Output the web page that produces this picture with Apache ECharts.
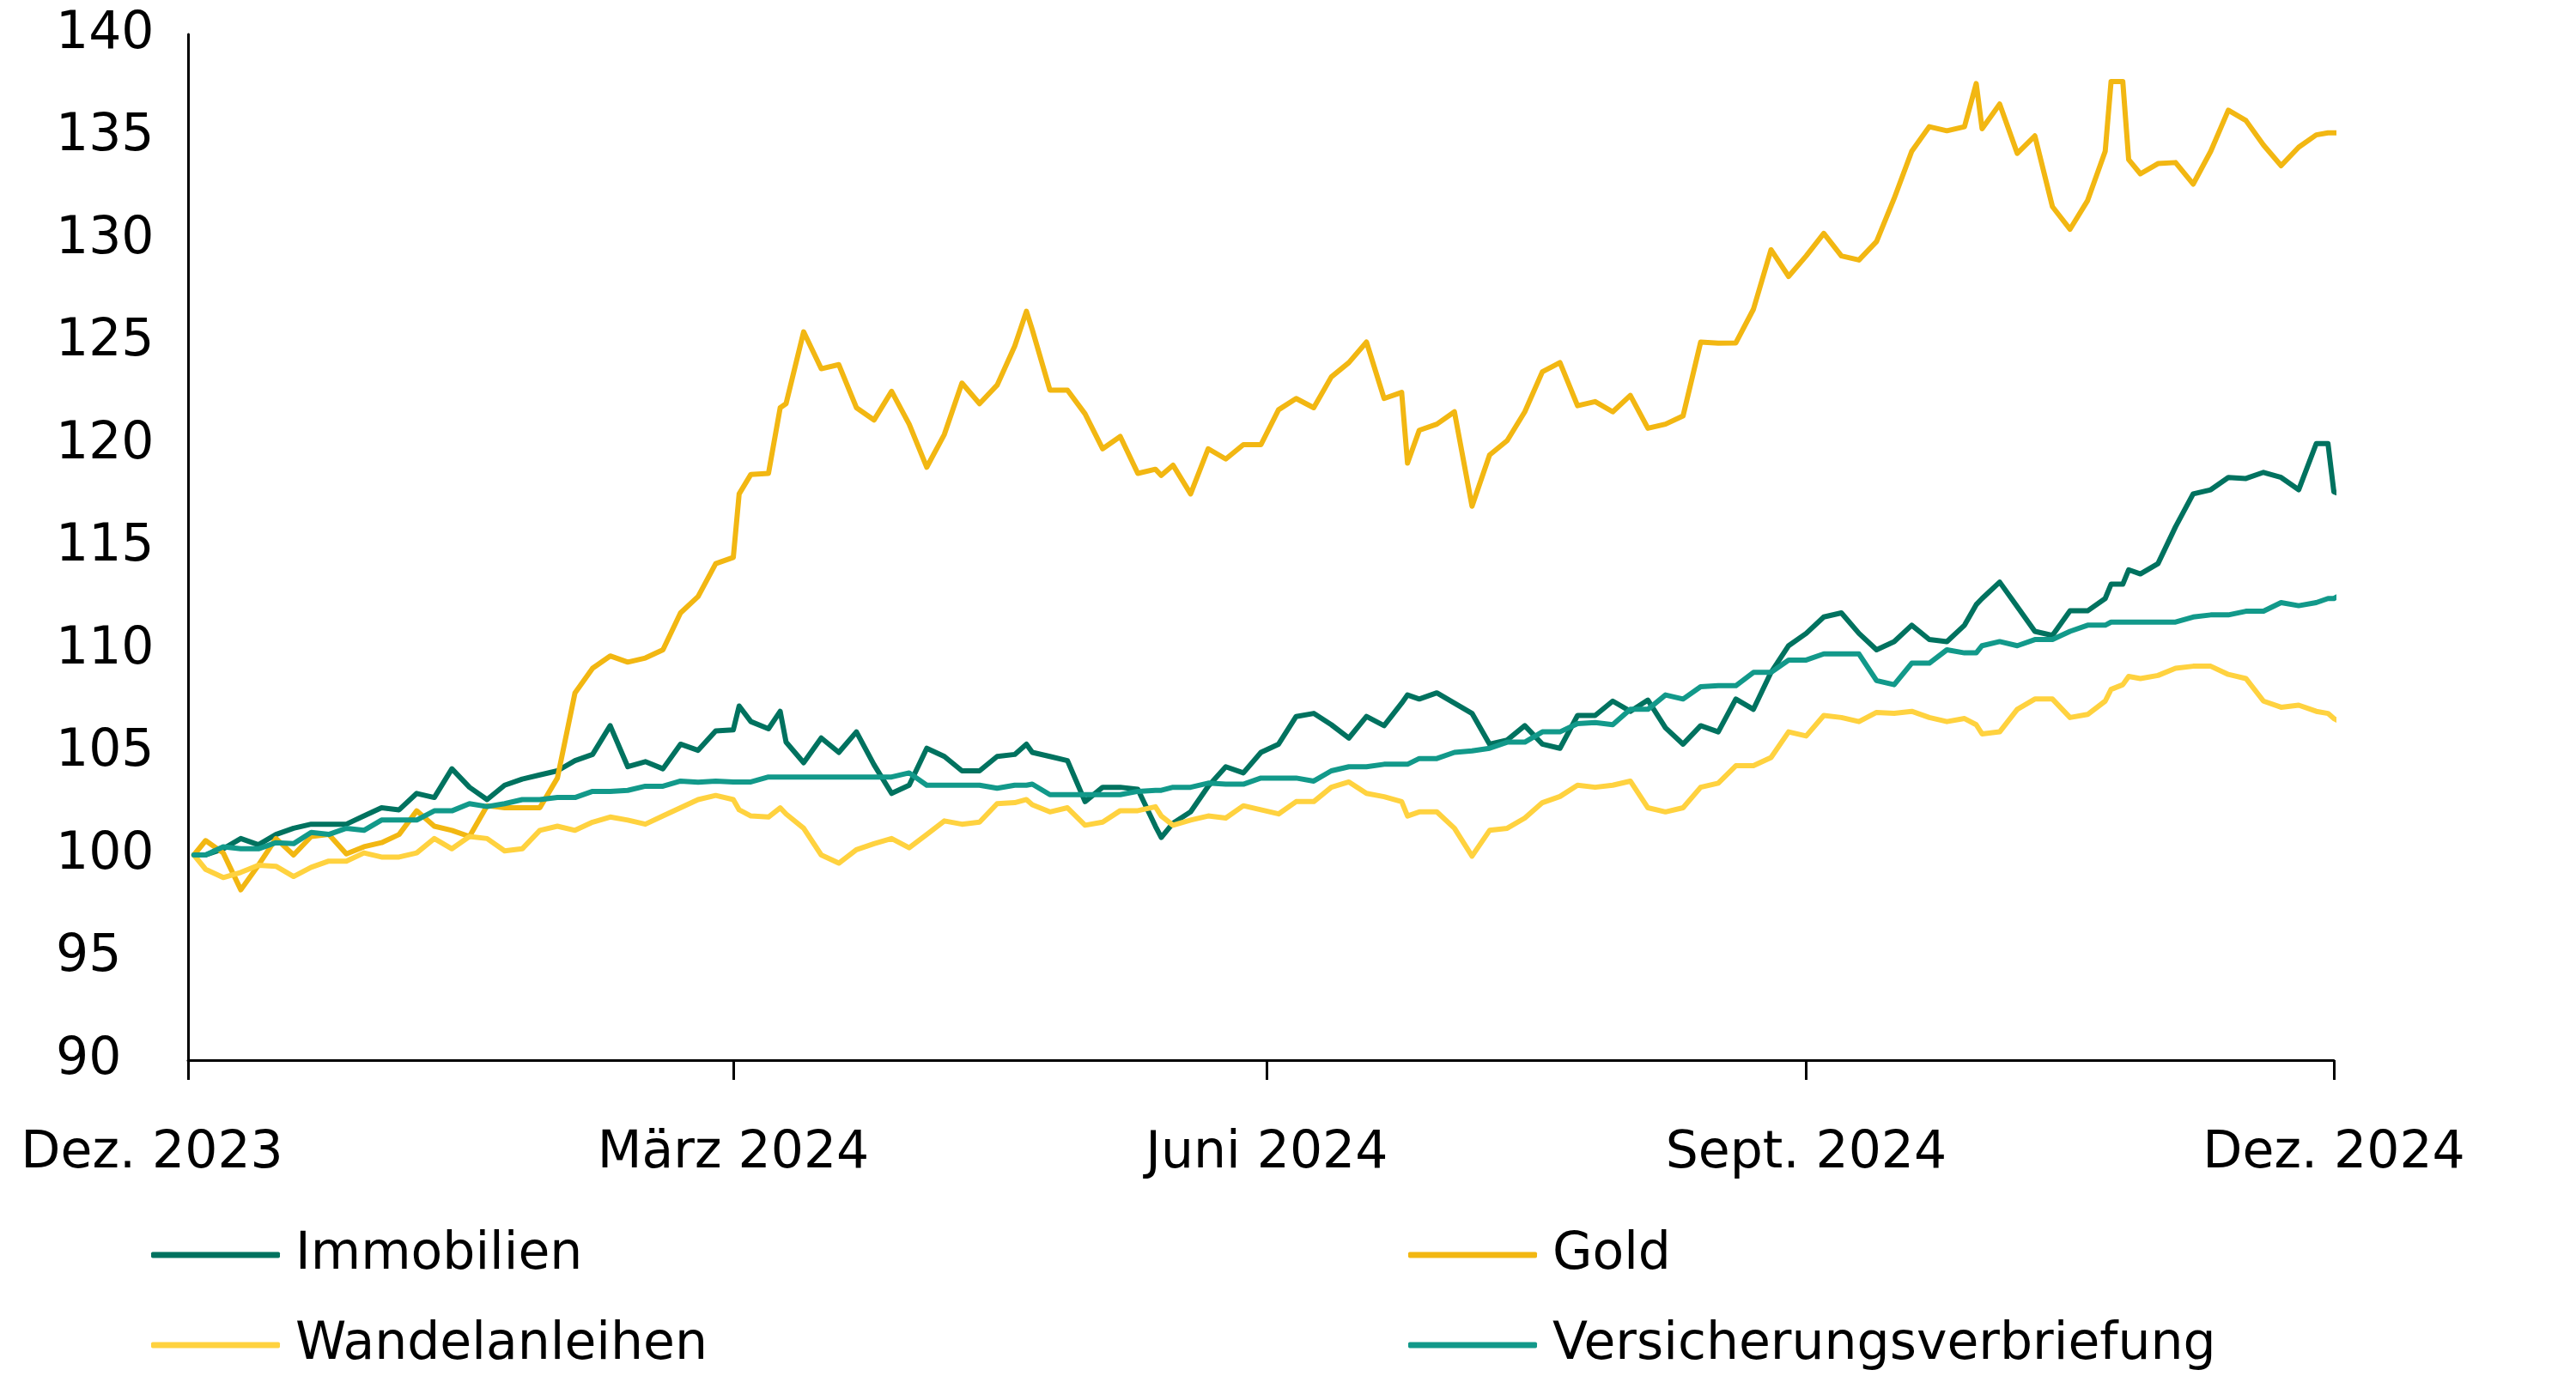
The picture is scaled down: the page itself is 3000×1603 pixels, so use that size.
<!DOCTYPE html>
<html>
<head>
<meta charset="utf-8">
<script src="https://cdn.jsdelivr.net/npm/echarts@6/dist/echarts.min.js"></script>
<style>
html,body{margin:0;padding:0;background:#fff;}
#chart{width:3000px;height:1603px;}
</style>
</head>
<body>
<div id="chart"></div>
<script>
// ---- data ----
const dates = [
'2023-12-02','2023-12-04','2023-12-07','2023-12-10','2023-12-13','2023-12-16','2023-12-19','2023-12-22','2023-12-25','2023-12-28','2023-12-31',
'2024-01-03','2024-01-06','2024-01-09','2024-01-12','2024-01-15','2024-01-18','2024-01-21','2024-01-24','2024-01-27','2024-01-30',
'2024-02-02','2024-02-05','2024-02-08','2024-02-11','2024-02-14','2024-02-17','2024-02-20','2024-02-23','2024-02-26','2024-02-29',
'2024-03-03','2024-03-04','2024-03-06','2024-03-09','2024-03-11','2024-03-12','2024-03-15','2024-03-18','2024-03-21','2024-03-24','2024-03-27','2024-03-30',
'2024-04-02','2024-04-05','2024-04-08','2024-04-11','2024-04-14','2024-04-17','2024-04-20','2024-04-22','2024-04-23','2024-04-26','2024-04-29',
'2024-05-02','2024-05-05','2024-05-08','2024-05-11','2024-05-14','2024-05-15','2024-05-17','2024-05-20','2024-05-23','2024-05-26','2024-05-29',
'2024-06-01','2024-06-04','2024-06-07','2024-06-10','2024-06-13','2024-06-16','2024-06-19','2024-06-22','2024-06-25','2024-06-26','2024-06-28',
'2024-07-01','2024-07-04','2024-07-07','2024-07-10','2024-07-13','2024-07-16','2024-07-19','2024-07-22','2024-07-25','2024-07-28','2024-07-31',
'2024-08-03','2024-08-06','2024-08-09','2024-08-12','2024-08-15','2024-08-18','2024-08-21','2024-08-24','2024-08-27','2024-08-30',
'2024-09-02','2024-09-05','2024-09-08','2024-09-11','2024-09-14','2024-09-17','2024-09-20','2024-09-23','2024-09-26','2024-09-29',
'2024-10-01','2024-10-02','2024-10-05','2024-10-08','2024-10-11','2024-10-14','2024-10-17','2024-10-20','2024-10-23','2024-10-24','2024-10-26','2024-10-27','2024-10-29',
'2024-11-01','2024-11-04','2024-11-07','2024-11-10','2024-11-13','2024-11-16','2024-11-19','2024-11-22','2024-11-25','2024-11-28',
'2024-11-30','2024-12-01','2024-12-02'
];

const immobilien = [
100,100,100.3,100.8,100.5,101.0,101.3,101.5,101.5,101.5,101.9,
102.3,102.2,103.0,102.8,104.2,103.3,102.7,103.4,103.7,103.9,
104.1,104.6,104.9,106.3,104.3,104.55,104.2,105.4,105.1,106.05,
106.1,107.26,106.5,106.15,107.0,105.5,104.5,105.7,105.0,106.0,104.4,103.0,
103.4,105.2,104.8,104.1,104.1,104.8,104.9,105.4,105.0,104.8,104.6,
102.6,103.3,103.3,103.2,101.4,100.85,101.55,102.1,103.35,104.3,104.0,
105.0,105.4,106.75,106.9,106.35,105.7,106.75,106.3,107.4,107.8,107.6,
107.9,107.4,106.9,105.4,105.6,106.3,105.4,105.2,106.8,106.8,107.5,
107.0,107.55,106.2,105.4,106.3,106.0,107.6,107.1,108.9,110.2,
110.8,111.6,111.8,110.8,110.0,110.4,111.2,110.5,110.4,111.2,
112.2,112.5,113.3,112.1,110.9,110.7,111.9,111.9,112.5,113.2,113.2,113.9,113.7,
114.2,116.0,117.6,117.8,118.4,118.35,118.65,118.4,117.8,120.05,
120.05,117.7,117.6
];

const gold = [
100,100.7,100.1,98.3,99.5,100.8,100.0,100.9,101.0,100.05,100.4,
100.6,101.0,102.15,101.4,101.2,100.9,102.4,102.3,102.3,102.3,
103.75,107.9,109.1,109.7,109.4,109.6,110.0,111.8,112.6,114.2,
114.5,117.6,118.55,118.6,121.8,122.0,125.5,123.7,123.9,121.8,121.2,122.6,
121.0,118.9,120.5,123.0,122.0,122.9,124.8,126.5,125.6,122.66,122.66,
121.5,119.8,120.4,118.6,118.8,118.5,119.0,117.6,119.8,119.3,120.0,
120.0,121.7,122.25,121.8,123.3,124.0,125.0,122.25,122.55,119.1,120.7,
121.0,121.6,117.0,119.5,120.2,121.6,123.55,124.0,121.9,122.1,121.6,
122.4,120.8,121.0,121.4,125.0,124.95,124.96,126.6,129.5,128.2,
129.2,130.3,129.2,129.0,129.9,132.0,134.3,135.5,135.3,135.5,
137.6,135.4,136.6,134.2,135.05,131.6,130.5,131.9,134.3,137.7,137.7,133.9,133.2,
133.7,133.75,132.7,134.3,136.3,135.8,134.6,133.6,134.5,135.1,
135.2,135.2,135.2
];

const wandelanleihen = [
100,99.3,98.9,99.15,99.5,99.45,98.95,99.4,99.7,99.7,100.1,
99.9,99.9,100.1,100.8,100.3,100.9,100.8,100.2,100.3,101.2,
101.4,101.2,101.6,101.85,101.7,101.5,101.9,102.3,102.7,102.9,
102.7,102.2,101.9,101.85,102.3,102.0,101.3,100.0,99.6,100.26,100.55,100.8,
100.35,101.0,101.66,101.5,101.6,102.5,102.55,102.7,102.45,102.1,102.3,
101.45,101.6,102.16,102.16,102.35,101.9,101.45,101.7,101.9,101.8,102.4,
102.2,102.0,102.6,102.6,103.3,103.56,103.0,102.84,102.6,101.9,102.1,
102.1,101.3,99.94,101.2,101.3,101.8,102.55,102.85,103.4,103.3,103.4,
103.6,102.3,102.1,102.3,103.3,103.5,104.35,104.35,104.75,106.0,
105.8,106.8,106.7,106.5,106.95,106.9,107.0,106.7,106.5,106.65,
106.35,105.9,106.0,107.1,107.6,107.6,106.7,106.85,107.5,108.07,108.3,108.7,108.6,
108.75,109.1,109.2,109.2,108.8,108.6,107.5,107.2,107.3,107.0,
106.9,106.65,106.5
];

const versicherung = [
100,100,100.4,100.3,100.3,100.6,100.55,101.1,101.0,101.3,101.2,
101.7,101.7,101.7,102.15,102.15,102.5,102.36,102.5,102.7,102.7,
102.8,102.8,103.1,103.1,103.15,103.35,103.35,103.6,103.55,103.6,
103.56,103.56,103.56,103.8,103.8,103.8,103.8,103.8,103.8,103.8,103.8,103.8,
104.0,103.4,103.4,103.4,103.4,103.25,103.4,103.4,103.45,102.94,102.94,
102.94,102.94,102.94,103.1,103.15,103.15,103.3,103.3,103.5,103.45,103.45,
103.75,103.75,103.75,103.6,104.1,104.3,104.3,104.42,104.42,104.42,104.7,
104.7,105.0,105.07,105.2,105.5,105.5,106.0,106.0,106.4,106.45,106.35,
107.1,107.1,107.8,107.6,108.2,108.25,108.25,108.9,108.9,109.5,
109.5,109.8,109.8,109.8,108.5,108.3,109.35,109.35,110.0,109.85,
109.85,110.2,110.4,110.2,110.5,110.5,110.9,111.2,111.2,111.35,111.35,111.35,111.35,
111.35,111.35,111.6,111.7,111.7,111.88,111.88,112.3,112.15,112.3,
112.5,112.5,112.65
];

const seriesNames = ['Immobilien', 'Gold', 'Wandelanleihen', 'Versicherungsverbriefung'];
const seriesColors = ['#00725F', '#F2B712', '#FFD23F', '#12998A'];
const tickDates = ['2023-12-01', '2024-03-03', '2024-06-02', '2024-09-02', '2024-12-01'];
const tickLabels = ['Dez. 2023', 'März 2024', 'Juni 2024', 'Sept. 2024', 'Dez. 2024'];
const axisStart = '2023-12-01';
const axisEnd = '2024-12-01';

// ---- build ----
const ts = s => new Date(s + 'T00:00:00Z').getTime();
const tickTs = tickDates.map(ts);
const allValues = [immobilien, gold, wandelanleihen, versicherung];

const FONT = "'DejaVu Sans', 'Open Sans', sans-serif";

const chart = echarts.init(document.getElementById('chart'), null, {renderer: 'canvas'});

const series = seriesNames.map((name, i) => ({
  name: name,
  type: 'line',
  data: dates.map((d, k) => [ts(d), allValues[i][k]]),
  symbol: 'none',
  showSymbol: false,
  clip: false,
  color: seriesColors[i],
  itemStyle: {color: seriesColors[i]},
  lineStyle: {color: seriesColors[i], width: 6, cap: 'round', join: 'round'},
  emphasis: {disabled: true},
  animation: false
}));

const legendBase = {
  orient: 'vertical',
  top: 1432,
  padding: 0,
  itemWidth: 150,
  itemHeight: 7,
  itemGap: 45,
  icon: 'roundRect',
  selectedMode: false,
  textStyle: {fontFamily: FONT, fontSize: 60, lineHeight: 60, color: '#000', padding: [0, 0, 0, 13]}
};

const labelText = {fontSize: 60, fontFamily: FONT, color: '#000'};

chart.setOption({
  backgroundColor: '#fff',
  animation: false,
  textStyle: {fontFamily: FONT},
  grid: {left: 219, right: 282, top: 40, bottom: 368, containLabel: false},
  xAxis: {
    type: 'value',
    min: ts(axisStart),
    max: ts(axisEnd),
    axisLine: {show: true, lineStyle: {color: '#000', width: 3}},
    axisTick: {show: true, length: 23, lineStyle: {color: '#000', width: 3}, customValues: tickTs},
    axisLabel: Object.assign({
      show: true,
      customValues: tickTs,
      margin: 79,
      formatter: function (v) {
        let best = 0, bd = Infinity;
        tickTs.forEach((t, i) => { const dd = Math.abs(t - v); if (dd < bd) { bd = dd; best = i; } });
        return best === 0 ? '{first|' + tickLabels[best] + '}' : '{std|' + tickLabels[best] + '}';
      },
      rich: {
        first: Object.assign({padding: [0, 84, 0, 0]}, labelText),
        std: Object.assign({}, labelText)
      }
    }, labelText),
    splitLine: {show: false},
    minorTick: {show: false}
  },
  yAxis: {
    type: 'value',
    min: 90,
    max: 140,
    interval: 5,
    axisLine: {show: true, lineStyle: {color: '#000', width: 3}},
    axisTick: {show: false},
    axisLabel: Object.assign({show: true, align: 'left', margin: 154}, labelText),
    splitLine: {show: false}
  },
  legend: [
    Object.assign({}, legendBase, {left: 176, data: ['Immobilien', 'Wandelanleihen']}),
    Object.assign({}, legendBase, {left: 1640, data: ['Gold', 'Versicherungsverbriefung']})
  ],
  series: series
});
</script>
</body>
</html>
